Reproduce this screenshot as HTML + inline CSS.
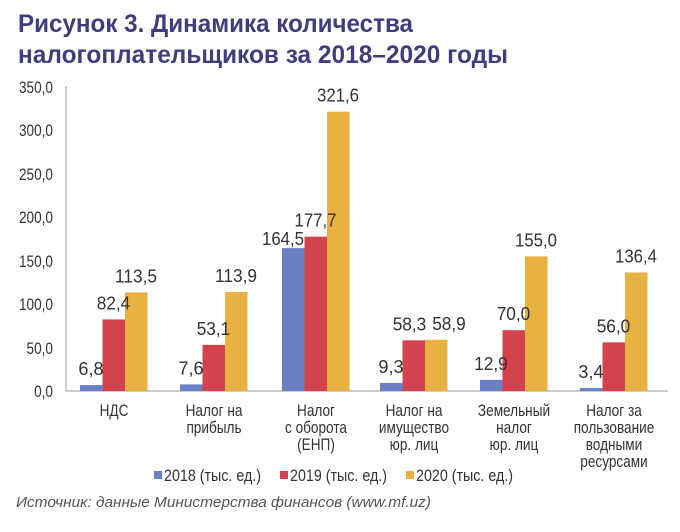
<!DOCTYPE html>
<html><head><meta charset="utf-8"><style>
body{margin:0;background:#fff;width:680px;height:527px;overflow:hidden}
</style></head><body>
<svg width="680" height="527" xmlns="http://www.w3.org/2000/svg" font-family="'Liberation Sans',sans-serif">
<text x="18" y="32" font-weight="bold" font-size="25" fill="#403c7d" textLength="395" lengthAdjust="spacingAndGlyphs">Рисунок 3. Динамика количества</text>
<text x="18" y="63" font-weight="bold" font-size="25" fill="#403c7d" textLength="490" lengthAdjust="spacingAndGlyphs">налогоплательщиков за 2018–2020 годы</text>
<g font-size="17" fill="#333" text-anchor="end" class="n">
<text x="53" y="93">350,0</text><text x="53" y="136">300,0</text><text x="53" y="180">250,0</text>
<text x="53" y="223">200,0</text><text x="53" y="267">150,0</text><text x="53" y="310">100,0</text>
<text x="53" y="354">50,0</text><text x="53" y="397">0,0</text>
</g>
<line x1="66" y1="86" x2="66" y2="391" stroke="#999"/>
<line x1="66" y1="391" x2="668" y2="391" stroke="#999"/>
<g id="bars"></g>
<g font-size="18" fill="#333" text-anchor="middle" id="vals"></g>
<g font-size="17" fill="#333" text-anchor="middle" class="n">
<text x="114" y="416">НДС</text>
<text x="214" y="416">Налог на</text><text x="214" y="433">прибыль</text>
<text x="316" y="416">Налог</text><text x="316" y="433">с оборота</text><text x="316" y="450">(ЕНП)</text>
<text x="414" y="416">Налог на</text><text x="414" y="433">имущество</text><text x="414" y="450">юр. лиц</text>
<text x="514" y="416">Земельный</text><text x="514" y="433">налог</text><text x="514" y="450">юр. лиц</text>
<text x="614" y="416">Налог за</text><text x="614" y="433">пользование</text><text x="614" y="450">водными</text><text x="614" y="467">ресурсами</text>
</g>
<g font-size="17" fill="#333" class="n" id="leg">
<rect x="154" y="471" width="8" height="8" fill="#6b7fc4"/><text x="164" y="481">2018 (тыс. ед.)</text>
<rect x="280" y="471" width="8" height="8" fill="#d2434d"/><text x="290" y="481">2019 (тыс. ед.)</text>
<rect x="406" y="471" width="8" height="8" fill="#e9b042"/><text x="416" y="481">2020 (тыс. ед.)</text>
</g>
<text x="16" y="507" font-style="italic" font-size="15" fill="#555" textLength="415" lengthAdjust="spacingAndGlyphs">Источник: данные Министерства финансов (www.mf.uz)</text>
<script>
var d=[[6.8,82.4,113.5],[7.6,53.1,113.9],[164.5,177.7,321.6],[9.3,58.3,58.9],[12.9,70.0,155.0],[3.4,56.0,136.4]];
var cx=[114,214,316,414,514,614],col=["#6b7fc4","#d2434d","#e9b042"];
var b=document.getElementById('bars'),v=document.getElementById('vals'),ns="http://www.w3.org/2000/svg";
d.forEach(function(g,i){g.forEach(function(val,j){
var h=val*0.8686,x=cx[i]-34+j*22.5,y=391-h;
var r=document.createElementNS(ns,'rect');r.setAttribute('x',x);r.setAttribute('y',y);r.setAttribute('width',22.5);r.setAttribute('height',h);r.setAttribute('fill',col[j]);b.appendChild(r);
var s=val.toFixed(1).replace('.',',');
var tx=x+11,ty=y-10; if(i==3&&j==1)tx-=4; if(i==3&&j==2)tx+=13;
var t=document.createElementNS(ns,'text');
if(i==2&&j==0){tx=x+22;ty=y-3;t.setAttribute('text-anchor','end');}
t.setAttribute('x',tx);t.setAttribute('y',ty);t.textContent=s;
t.setAttribute('textLength',s.length*8.4);t.setAttribute('lengthAdjust','spacingAndGlyphs');v.appendChild(t);
});});
document.querySelectorAll('.n text').forEach(function(t){var w=t.getComputedTextLength();t.setAttribute('textLength',w*0.8);t.setAttribute('lengthAdjust','spacingAndGlyphs');});
document.querySelectorAll('#leg text').forEach(function(t){var w=t.getComputedTextLength();t.setAttribute('textLength',w*1.05);});
</script>
</svg>
</body></html>
